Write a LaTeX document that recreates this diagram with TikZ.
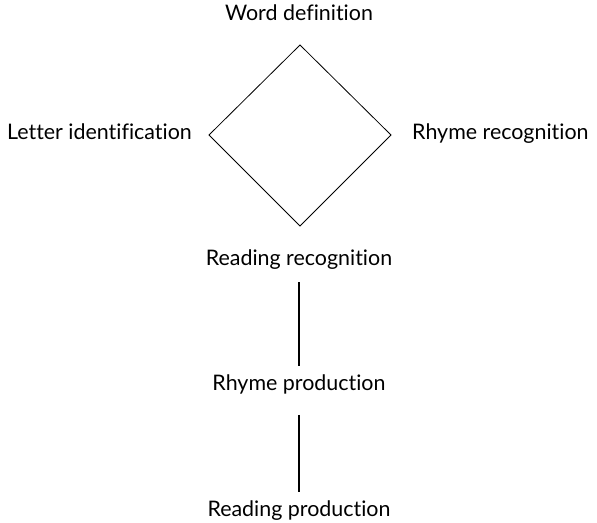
\documentclass[tikz,border=0pt]{standalone}
\usepackage{fontspec}
\setmainfont{Lato}[Ligatures=NoCommon]
\usetikzlibrary{positioning}

\begin{document}
\begin{tikzpicture}[x=1bp, y=-1bp,
    lbl/.style={font=\fontsize{21.5}{24}\selectfont, inner sep=0pt, anchor=base},
    rombo/.style={line width=0.8bp, line join=miter},
    enlace/.style={line width=1.7bp}]

\useasboundingbox (0,0) rectangle (597,523);

% --- Nodos (etiquetas) ---
\node[lbl] (worddef) at (299,21) {Word definition};
\node[lbl, anchor=base east] (letterid) at (192,140) {Letter identification};
\node[lbl, anchor=base west] (rhymerec) at (412,140) {Rhyme recognition};
\node[lbl] (readrec) at (299,265) {Reading recognition};
\node[lbl] (rhymeprod) at (299,390) {Rhyme production};
\node[lbl] (readprod) at (299,516) {Reading production};

% --- Vértices del rombo ---
\coordinate (top) at (300,45);
\coordinate (left) at (209,135);
\coordinate (right) at (391,135);
\coordinate (bottom) at (300,226);

% Rombo
\draw[rombo] (top) -- (left) -- (bottom) -- (right) -- cycle;

% Enlaces verticales
\draw[enlace, shorten <=13bp, shorten >=8bp] (readrec.south) -- (rhymeprod.north);
\draw[enlace, shorten <=21bp, shorten >=8bp] (rhymeprod.south) -- (readprod.north);

\end{tikzpicture}
\end{document}
